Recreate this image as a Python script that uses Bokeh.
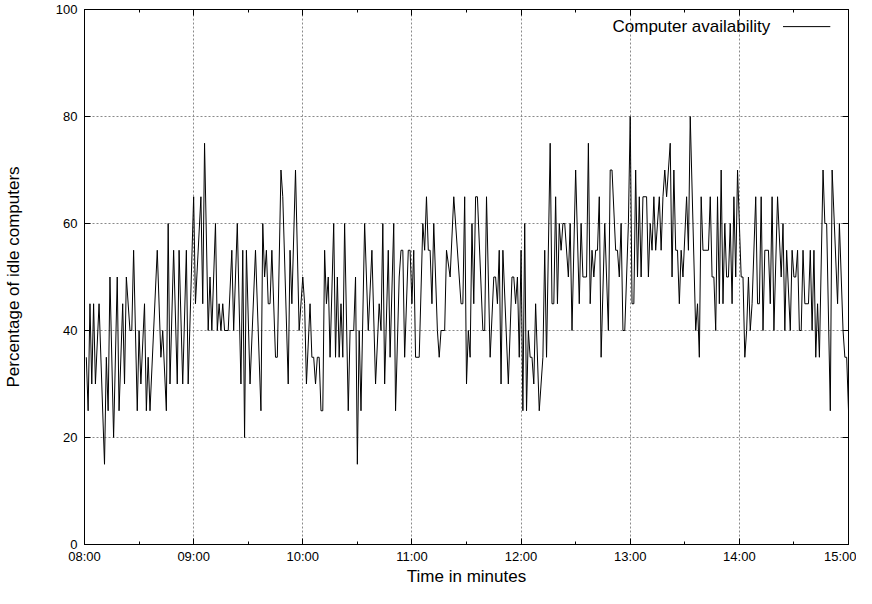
import datetime as dt
from bokeh.plotting import figure
from bokeh.models import (Range1d, LinearAxis, DatetimeAxis, FixedTicker,
                          DatetimeTickFormatter, CustomJSTickFormatter, Label, Arrow,
                          ColumnDataSource)
from bokeh.embed import file_html
from bokeh.resources import INLINE

# ---------------- data (minutes after 08:00, % idle computers) ----------------
minutes = [
    1, 2, 3, 4, 5, 6, 8, 11, 12, 13, 14, 16, 18, 19, 21, 22, 23, 25, 26, 27, 29, 30, 31, 33, 34, 35, 36,
    40, 42, 43, 45, 46, 47, 49, 51, 52, 54, 56, 57, 60, 61, 64, 65, 66, 68, 69, 70, 72, 73, 74, 75,
    76, 77, 79, 81, 82, 84, 86, 87, 88, 89, 91, 94, 97, 98, 99, 100, 101, 102, 103, 105, 106, 108, 109, 112, 113, 114,
    116, 118, 120, 121, 122, 124, 125, 126, 127, 128, 129, 130, 131, 132, 133, 134, 135, 137, 138, 139, 140, 141, 142, 143,
    145, 146, 148, 149, 150, 151, 152,
    154, 156, 158, 160, 162, 163, 164, 165, 167, 168, 170, 171, 173, 174, 175, 176, 178, 179, 180, 181, 182, 184, 186, 187,
    188, 189, 190, 191,
    192, 194, 195, 196, 198, 199, 201, 203, 207, 208, 209, 210, 211, 212, 213, 214, 215, 216, 219, 220, 221, 223, 225, 226,
    227, 228, 229,
    230, 233, 235, 236, 237, 238, 239, 240, 241, 242, 243, 244, 245, 246, 247, 248, 250, 252, 253, 254, 256, 257, 258, 259,
    260, 261, 262, 263, 264, 266, 267, 268,
    270, 272, 273, 274, 276, 277, 278, 279, 280, 281, 282, 283, 284, 286, 288, 289, 290, 292, 293, 294, 295, 296, 297, 299,
    300, 301, 302, 303, 304, 305, 306,
    307, 309, 310, 311, 312, 313, 314, 316, 317, 318, 319, 320, 321, 322, 323, 324, 325, 326, 327, 328, 329, 331, 332, 333,
    336, 337, 338, 339, 340, 343, 344, 345,
    346, 347, 348, 349, 350, 351, 352, 353, 354, 355, 356, 357, 358, 359, 361, 362, 363, 364, 365, 366, 367, 369, 370, 371,
    372, 373, 374, 376, 377, 378, 379, 381, 383,
    384, 385, 386, 388, 389, 390, 391, 392, 393, 394, 395, 396, 398, 399, 400, 401, 402, 403, 404, 406, 407, 408, 410, 411,
    414, 415, 417, 418, 419, 420,
]
idle_pct = [
    35, 25, 45, 30, 45, 30, 45, 15, 35, 25, 50, 20, 50, 25, 45, 30, 50, 40, 40, 55, 25, 40, 30, 45, 25, 35, 25,
    55, 35, 40, 25, 60, 30, 55, 30, 55, 30, 55, 30, 65, 45, 65, 45, 75, 40, 50, 40, 60, 40, 45, 40,
    45, 40, 40, 55, 40, 60, 30, 55, 20, 55, 30, 55, 25, 60, 50, 55, 45, 45, 55, 35, 35, 70, 65, 30, 55, 45,
    70, 40, 50, 45, 30, 45, 35, 35, 30, 35, 35, 25, 25, 55, 45, 50, 35, 60, 35, 50, 35, 45, 35, 60,
    25, 40, 40, 50, 15, 40, 25,
    60, 40, 55, 30, 45, 40, 60, 30, 55, 35, 60, 25, 50, 55, 55, 35, 55, 55, 45, 55, 35, 35, 60, 55,
    65, 55, 55, 45,
    60, 40, 35, 40, 40, 55, 50, 65, 45, 45, 65, 30, 40, 35, 60, 45, 65, 65, 40, 40, 65, 35, 50, 50,
    45, 55, 30,
    55, 30, 50, 50, 45, 50, 35, 55, 25, 60, 25, 40, 35, 35, 30, 45, 25, 35, 55, 35, 75, 45, 45, 65,
    45, 60, 55, 60, 60, 50, 60, 40,
    70, 45, 60, 50, 50, 75, 45, 55, 50, 55, 55, 65, 35, 60, 40, 70, 70, 55, 55, 50, 60, 40, 40, 60,
    80, 45, 45, 70, 50, 65, 50,
    65, 65, 50, 60, 55, 65, 55, 65, 55, 65, 70, 65, 70, 75, 50, 70, 55, 55, 45, 55, 50, 65, 55, 80,
    40, 45, 35, 65, 55, 55, 65, 50,
    50, 40, 65, 45, 70, 45, 60, 50, 50, 60, 45, 65, 50, 70, 50, 50, 35, 40, 50, 40, 45, 65, 45, 45,
    65, 40, 55, 55, 45, 65, 40, 65, 50,
    60, 40, 55, 40, 55, 50, 50, 55, 40, 40, 55, 45, 45, 55, 40, 55, 35, 45, 35, 70, 60, 60, 25, 70,
    45, 60, 40, 35, 35, 25,
]
assert len(minutes) == len(idle_pct)

y_ticks = [0, 20, 40, 60, 80, 100]
hour_offsets = [0, 1, 2, 3, 4, 5, 6, 7]
series_label = "Computer availability"
x_title = "Time in minutes"
y_title = "Percentage of idle computers"

# ---------------- helpers ----------------
day0 = dt.datetime(2020, 1, 6, 8, 0)
epoch = dt.datetime(1970, 1, 1)


def ms(t):
    return (t - epoch).total_seconds() * 1000.0


times = [day0 + dt.timedelta(minutes=m) for m in minutes]
x_start = day0
x_end = day0 + dt.timedelta(hours=hour_offsets[-1])
major_x = [ms(day0 + dt.timedelta(hours=h)) for h in hour_offsets]
minor_x = [ms(day0 + dt.timedelta(minutes=30 + 60 * h)) for h in hour_offsets[:-1]]

FONT = "Liberation Sans"

p = figure(width=856, height=588, x_axis_type="datetime",
           x_range=Range1d(x_start, x_end), y_range=Range1d(0, 100),
           output_backend="svg", toolbar_location=None,
           min_border_left=80, min_border_right=8, min_border_top=9, min_border_bottom=30)
p.background_fill_color = "white"
p.border_fill_color = "white"
p.outline_line_color = "black"
p.outline_line_width = 1
p.outline_line_alpha = 1

src = ColumnDataSource(dict(t=times, v=idle_pct))
p.line("t", "v", source=src, line_color="black", line_width=1)

fmt = DatetimeTickFormatter(milliseconds="%H:%M", seconds="%H:%M", minsec="%H:%M",
                            minutes="%H:%M", hourmin="%H:%M", hours="%H:%M",
                            days="%H:%M", months="%H:%M", years="%H:%M")
blank = CustomJSTickFormatter(code="return '';")


def style_axis(ax, show_labels):
    ax.axis_line_color = "black"
    ax.major_tick_line_color = "black"
    ax.minor_tick_line_color = "black"
    ax.major_tick_in = 6
    ax.major_tick_out = 0
    ax.minor_tick_in = 3
    ax.minor_tick_out = 0
    ax.major_label_text_font = FONT
    ax.major_label_text_font_size = "13px" if show_labels else "0px"
    ax.major_label_text_color = "black"
    ax.axis_label_text_font = FONT
    ax.axis_label_text_font_size = "17px"
    ax.axis_label_text_font_style = "normal"
    ax.axis_label_text_color = "black"


xax = p.xaxis[0]
xax.ticker = FixedTicker(ticks=major_x, minor_ticks=minor_x)
xax.formatter = fmt
style_axis(xax, True)
xax.major_label_standoff = 4
xax.axis_label = x_title
xax.axis_label_standoff = 0

yax = p.yaxis[0]
yax.ticker = FixedTicker(ticks=y_ticks, minor_ticks=[])
style_axis(yax, True)
yax.major_label_standoff = 7
yax.axis_label = y_title
yax.axis_label_standoff = 30

top_ax = DatetimeAxis(ticker=FixedTicker(ticks=major_x, minor_ticks=minor_x), formatter=blank)
style_axis(top_ax, False)
top_ax.major_label_standoff = 0
p.add_layout(top_ax, "above")

right_ax = LinearAxis(ticker=FixedTicker(ticks=y_ticks, minor_ticks=[]), formatter=blank)
style_axis(right_ax, False)
right_ax.major_label_standoff = 0
p.add_layout(right_ax, "right")

p.xgrid.ticker = FixedTicker(ticks=major_x)
p.ygrid.ticker = FixedTicker(ticks=y_ticks)
for g in (p.xgrid[0], p.ygrid[0]):
    g.grid_line_color = "#8a8a8a"
    g.grid_line_dash = "2 2"
    g.grid_line_width = 1

# legend (gnuplot style: text, then line sample on the right)
leg_y = 96.8
leg_text_x = ms(x_end - dt.timedelta(minutes=43))
leg_line_x0 = ms(x_end - dt.timedelta(minutes=36))
leg_line_x1 = ms(x_end - dt.timedelta(minutes=10))
p.add_layout(Label(x=leg_text_x, y=leg_y, text=series_label, text_align="right",
                   text_baseline="middle", text_font=FONT, text_font_size="17px",
                   text_color="black"))
p.add_layout(Arrow(x_start=leg_line_x0, y_start=leg_y, x_end=leg_line_x1, y_end=leg_y,
                   end=None, line_color="black", line_width=1))

open("out.html", "w").write(file_html(p, INLINE))
